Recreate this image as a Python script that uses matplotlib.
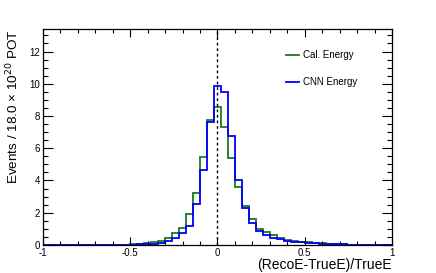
import numpy as np
import matplotlib
matplotlib.use("Agg")
import matplotlib.pyplot as plt
from matplotlib.ticker import MultipleLocator

plt.rcParams['font.family'] = ['Liberation Sans', 'DejaVu Sans']
plt.rcParams['axes.unicode_minus'] = False

# bin centres -1.00 ... 1.00, width 0.04
bin_width = 0.04
bin_centers = [round(-1.0 + 0.04 * i, 2) for i in range(51)]

cal_energy = [0.01, 0.01, 0.01, 0.01, 0.01, 0.01, 0.01, 0.01, 0.01, 0.01,
              0.02, 0.02, 0.03, 0.04, 0.06, 0.10, 0.16, 0.27, 0.43, 0.72,
              1.06, 1.94, 3.20, 5.45, 7.76, 8.57, 7.29, 5.41, 3.61, 2.39,
              1.59, 1.00, 0.78, 0.60, 0.42, 0.31, 0.24, 0.18, 0.16, 0.12,
              0.10, 0.07, 0.05, 0.04, 0.03, 0.03, 0.02, 0.02, 0.02, 0.01, 0.01]
cnn_energy = [0.01, 0.01, 0.01, 0.01, 0.01, 0.01, 0.01, 0.01, 0.01, 0.01,
              0.01, 0.01, 0.02, 0.03, 0.04, 0.05, 0.08, 0.14, 0.22, 0.41,
              0.72, 1.16, 2.55, 4.65, 7.65, 9.86, 9.49, 6.74, 4.04, 2.31,
              1.37, 0.85, 0.60, 0.45, 0.35, 0.27, 0.20, 0.16, 0.12, 0.10,
              0.08, 0.06, 0.05, 0.04, 0.03, 0.02, 0.02, 0.02, 0.01, 0.01, 0.01]

labels = ["Cal. Energy", "CNN Energy"]
xlabel = "(RecoE-TrueE)/TrueE"
ylabel = "Events / 18.0 × 10$^{20}$ POT"

edges = np.concatenate([np.array(bin_centers) - bin_width / 2,
                        [bin_centers[-1] + bin_width / 2]])

fig = plt.figure(figsize=(4.36, 2.73), dpi=100)
ax = fig.add_axes([0.0986, 0.1026, 0.8005, 0.7914])

green = "#1b7a1b"
blue = "#0000ff"
ax.stairs(cal_energy, edges, color=green, lw=1.3, label=labels[0])
ax.stairs(cnn_energy, edges, color=blue, lw=1.3, label=labels[1])
ax.axvline(0, color="black", ls=(0, (2, 2)), lw=1.0)

ax.set_xlim(-1, 1)
ax.set_ylim(0, 13.4)
ax.xaxis.set_major_locator(MultipleLocator(0.5))
ax.xaxis.set_minor_locator(MultipleLocator(0.1))
ax.yaxis.set_major_locator(MultipleLocator(2))
ax.yaxis.set_minor_locator(MultipleLocator(0.5))
ax.xaxis.set_major_formatter(matplotlib.ticker.FuncFormatter(lambda v, p: f"{v:g}"))
ax.tick_params(which="both", direction="in", top=True, right=True, labelsize=7, width=0.8)
ax.tick_params(axis="x", which="major", length=6, pad=2)
ax.tick_params(axis="x", which="minor", length=3)
ax.tick_params(axis="y", which="major", length=7, pad=2)
ax.tick_params(axis="y", which="minor", length=3.5)
for s in ax.spines.values():
    s.set_linewidth(0.9)

ax.set_xlabel(xlabel, fontsize=10, loc="right", labelpad=0)
ax.set_ylabel(ylabel, fontsize=9.7, loc="top", labelpad=6)

leg = ax.legend(loc="upper left", bbox_to_anchor=((286 - 43) / 349, (245 - 50) / 216),
                frameon=False, borderpad=0, borderaxespad=0,
                fontsize=7, handlelength=1.35, handletextpad=0.35, labelspacing=1.75)

fig.savefig("out.png", dpi=100)
